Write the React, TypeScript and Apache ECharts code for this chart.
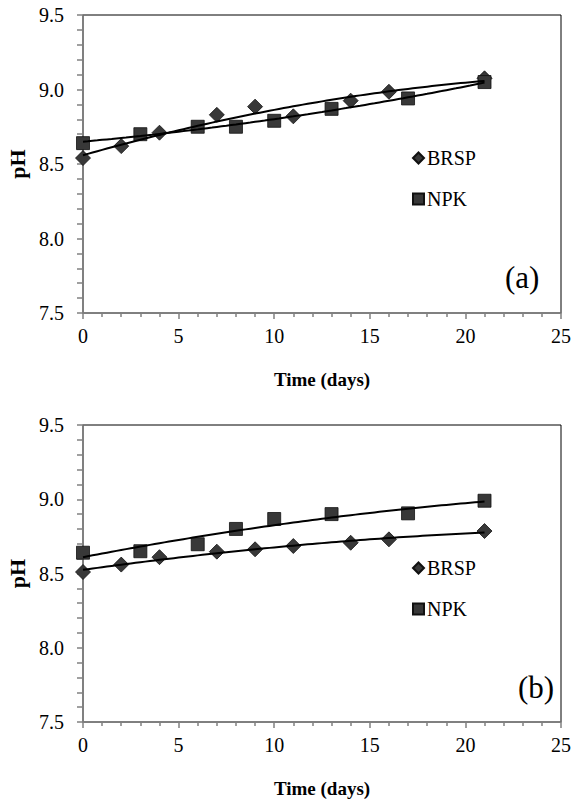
import React, { useEffect, useRef } from "react";
import * as echarts from "echarts";

const daysBRSP = [0, 2, 4, 7, 9, 11, 14, 16, 21];
const daysNPK = [0, 3, 6, 8, 10, 13, 17, 21];
const phBRSP_a = [8.54, 8.62, 8.71, 8.83, 8.885, 8.82, 8.925, 8.985, 9.075];
const phNPK_a = [8.64, 8.7, 8.75, 8.75, 8.79, 8.87, 8.94, 9.05];
const phBRSP_b = [8.51, 8.56, 8.61, 8.647, 8.663, 8.685, 8.707, 8.73, 8.786];
const phNPK_b = [8.64, 8.65, 8.697, 8.8, 8.867, 8.9, 8.905, 8.99];
const xTicks = [0, 5, 10, 15, 20, 25];
const yTicks = [7.5, 8.0, 8.5, 9.0, 9.5];
const panelLabels = ["(a)", "(b)"];

// Quadratic least-squares trendline (as in the spreadsheet chart)
function quadFit(xs: number[], ys: number[]) {
  const n = xs.length;
  let s0 = n, s1 = 0, s2 = 0, s3 = 0, s4 = 0, t0 = 0, t1 = 0, t2 = 0;
  for (let i = 0; i < n; i++) {
    const x = xs[i], y = ys[i];
    s1 += x; s2 += x * x; s3 += x ** 3; s4 += x ** 4;
    t0 += y; t1 += x * y; t2 += x * x * y;
  }
  const M = [
    [s0, s1, s2, t0],
    [s1, s2, s3, t1],
    [s2, s3, s4, t2],
  ];
  for (let c = 0; c < 3; c++) {
    for (let r = c + 1; r < 3; r++) {
      const f = M[r][c] / M[c][c];
      for (let k = c; k < 4; k++) M[r][k] -= f * M[c][k];
    }
  }
  const coef = [0, 0, 0];
  for (let r = 2; r >= 0; r--) {
    let s = M[r][3];
    for (let k = r + 1; k < 3; k++) s -= M[r][k] * coef[k];
    coef[r] = s / M[r][r];
  }
  const x0 = xs[0], x1 = xs[xs.length - 1];
  const pts: number[][] = [];
  for (let x = x0; x <= x1 + 1e-9; x += 0.25) {
    pts.push([x, coef[0] + coef[1] * x + coef[2] * x * x]);
  }
  return pts;
}

const FONT = "Liberation Serif";
const MARK = "#383838";

export default function App() {
  const ref = useRef<HTMLDivElement>(null);
  useEffect(() => {
    if (!ref.current) return;
    const chart = echarts.init(ref.current, undefined, { renderer: "svg" });
    const grids = [
      { left: 83, top: 15, width: 478, height: 298 },
      { left: 83, top: 425, width: 478, height: 297 },
    ];
    const xAxes = grids.map((_, i) => ({
      type: "value",
      gridIndex: i,
      min: xTicks[0],
      max: xTicks[xTicks.length - 1],
      interval: 5,
      name: "Time (days)",
      nameLocation: "middle",
      nameGap: 57,
      nameTextStyle: { fontFamily: FONT, fontWeight: "bold", fontSize: 19, color: "#000" },
      axisLine: { show: true, lineStyle: { color: "#808080", width: 1.5 } },
      axisTick: { show: true, length: 6, lineStyle: { color: "#808080", width: 1.5 } },
      minorTick: { show: true, splitNumber: 5, length: 4, lineStyle: { color: "#808080", width: 1.5 } },
      splitLine: { show: false },
      axisLabel: { fontFamily: FONT, fontSize: 20, color: "#000", margin: 13 },
    }));
    const yAxes = grids.map((_, i) => ({
      type: "value",
      gridIndex: i,
      min: yTicks[0],
      max: yTicks[yTicks.length - 1],
      interval: 0.5,
      name: "pH",
      nameLocation: "middle",
      nameGap: 52,
      nameRotate: 90,
      nameTextStyle: { fontFamily: FONT, fontWeight: "bold", fontSize: 22, color: "#000" },
      axisLine: { show: true, lineStyle: { color: "#808080", width: 1.5 } },
      axisTick: { show: true, length: 6, lineStyle: { color: "#808080", width: 1.5 } },
      minorTick: { show: true, splitNumber: 5, length: 6, lineStyle: { color: "#808080", width: 1.5 } },
      splitLine: { show: false },
      axisLabel: {
        fontFamily: FONT, fontSize: 20, color: "#000", margin: 19,
        formatter: (v: number) => v.toFixed(1),
      },
    }));
    const sets = [
      [phBRSP_a, phNPK_a],
      [phBRSP_b, phNPK_b],
    ];
    const series: any[] = [];
    sets.forEach(([b, n], i) => {
      series.push({
        type: "line", name: "fitB" + i, xAxisIndex: i, yAxisIndex: i,
        data: quadFit(daysBRSP, b), showSymbol: false, symbol: "none",
        lineStyle: { color: "#000", width: 2 }, z: 3, silent: true,
      });
      series.push({
        type: "line", name: "fitN" + i, xAxisIndex: i, yAxisIndex: i,
        data: quadFit(daysNPK, n), showSymbol: false, symbol: "none",
        lineStyle: { color: "#000", width: 2 }, z: 3, silent: true,
      });
      series.push({
        type: "scatter", name: "BRSP", xAxisIndex: i, yAxisIndex: i,
        data: daysBRSP.map((d, k) => [d, b[k]]), symbol: "diamond", symbolSize: 15,
        itemStyle: { color: MARK, borderColor: "#111", borderWidth: 0.8, opacity: 1 }, z: 2,
      });
      series.push({
        type: "scatter", name: "NPK", xAxisIndex: i, yAxisIndex: i,
        data: daysNPK.map((d, k) => [d, n[k]]), symbol: "rect", symbolSize: 13,
        itemStyle: { color: MARK, borderColor: "#111", borderWidth: 0.8, opacity: 1 }, z: 2,
      });
    });
    const legendTops = [148, 558];
    chart.setOption({
      animation: false,
      backgroundColor: "#fff",
      grid: grids.map((g) => ({
        ...g, show: true, borderColor: "#000", borderWidth: 1,
        backgroundColor: "transparent", containLabel: false, outerBoundsMode: "none",
      })),
      xAxis: xAxes,
      yAxis: yAxes,
      legend: legendTops.map((t) => ({
        data: [
          { name: "BRSP", icon: "diamond" },
          { name: "NPK", icon: "rect" },
        ],
        orient: "vertical",
        left: 412,
        top: t,
        padding: 0,
        itemGap: 21,
        itemWidth: 11,
        itemHeight: 11,
        selectedMode: false,
        textStyle: { fontFamily: FONT, fontSize: 20, color: "#000", padding: [0, 0, 0, -2] },
      })),
      graphic: [
        { type: "text", left: 505, top: 262, style: { text: panelLabels[0], fontFamily: FONT, fontSize: 31, fill: "#000" } },
        { type: "text", left: 518, top: 672, style: { text: panelLabels[1], fontFamily: FONT, fontSize: 31, fill: "#000" } },
      ],
      series,
    });
    return () => chart.dispose();
  }, []);
  return (
    <div
      ref={ref}
      style={{ position: "fixed", left: 0, top: 0, width: 572, height: 802, background: "#fff" }}
    />
  );
}
